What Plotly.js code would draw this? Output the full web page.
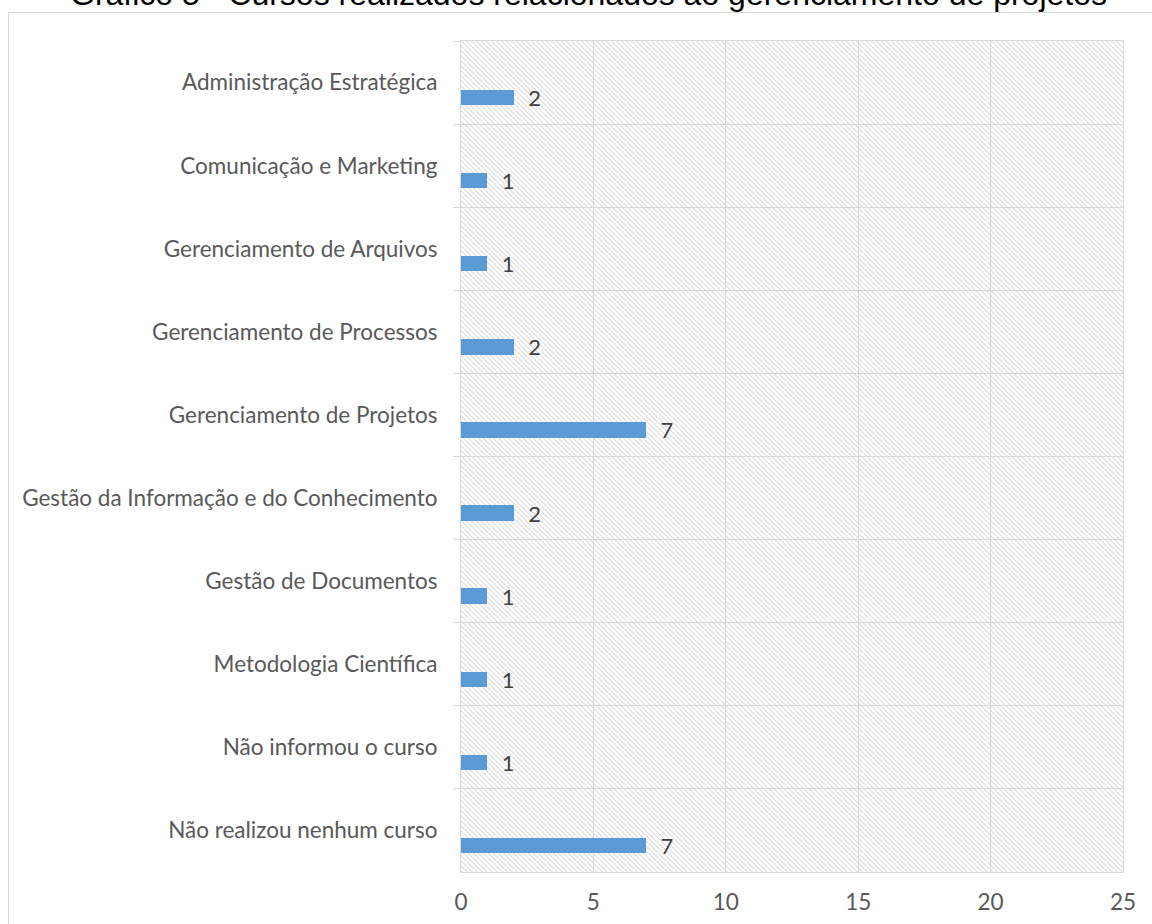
<!DOCTYPE html>
<html>
<head>
<meta charset="utf-8">
<script src="https://cdn.plot.ly/plotly-3.0.1.min.js"></script>
<style>
  html, body { margin: 0; padding: 0; background: #ffffff; }
  #chart { width: 1152px; height: 924px; }
</style>
</head>
<body>
<div id="chart"></div>
<script>
// Courses taken, related to project management
const courses = [
  "Administração Estratégica",
  "Comunicação e Marketing",
  "Gerenciamento de Arquivos",
  "Gerenciamento de Processos",
  "Gerenciamento de Projetos",
  "Gestão da Informação e do Conhecimento",
  "Gestão de Documentos",
  "Metodologia Científica",
  "Não informou o curso",
  "Não realizou nenhum curso"
];
const counts = [2, 1, 1, 2, 7, 2, 1, 1, 1, 7];
const xTicks = [0, 5, 10, 15, 20, 25];
const chartTitle = "Gráfico 5 - Cursos realizados relacionados ao gerenciamento de projetos";

const W = 1152, H = 924;
const M = { l: 461, r: 29, t: 41, b: 52 };
const plotW = W - M.l - M.r;
const plotH = H - M.t - M.b;

// Light diagonal hatch used as the plot-area fill
function hatchImage(w, h) {
  const c = document.createElement("canvas");
  c.width = w; c.height = h;
  const ctx = c.getContext("2d");
  const img = ctx.createImageData(w, h);
  for (let y = 0; y < h; y++) {
    for (let x = 0; x < w; x++) {
      const d = ((x - y) % 5 + 5) % 5;
      let v = 255;
      if (d === 0) v = 222;
      else if (d === 1) v = 238;
      const i = (y * w + x) * 4;
      img.data[i] = v; img.data[i + 1] = v; img.data[i + 2] = v; img.data[i + 3] = 255;
    }
  }
  ctx.putImageData(img, 0, 0);
  return c.toDataURL("image/png");
}

const grid = "#d9d9d9";
const labelFont = { family: "Lato, 'Open Sans', sans-serif", size: 22.5, color: "#595959" };

const trace = {
  type: "bar",
  orientation: "h",
  x: counts,
  y: courses,
  width: 0.185,
  offset: 0.088,
  marker: { color: "#5b9bd5" },
  text: counts.map(String),
  texttemplate: "\u00a0\u00a0%{text}",
  textposition: "outside",
  constraintext: "none",
  cliponaxis: false,
  textfont: { family: "Lato, 'Open Sans', sans-serif", size: 22, color: "#404040" },
  hoverinfo: "x+y"
};

const layout = {
  width: W,
  height: H,
  margin: M,
  paper_bgcolor: "#ffffff",
  plot_bgcolor: "rgba(0,0,0,0)",
  showlegend: false,
  bargap: 0,
  xaxis: {
    range: [0, 25],
    tickvals: xTicks,
    ticktext: xTicks.map(String),
    showgrid: true,
    gridcolor: grid,
    gridwidth: 1,
    zeroline: false,
    showline: true,
    linecolor: grid,
    linewidth: 1,
    mirror: true,
    ticks: "",
    ticklabelstandoff: 10,
    tickfont: labelFont,
    fixedrange: true
  },
  yaxis: {
    type: "category",
    categoryorder: "array",
    categoryarray: courses,
    autorange: "reversed",
    tickson: "boundaries",
    ticks: "outside",
    ticklen: 7,
    tickcolor: grid,
    tickwidth: 1,
    showgrid: true,
    gridcolor: grid,
    gridwidth: 1,
    showline: true,
    linecolor: grid,
    linewidth: 1,
    mirror: true,
    ticklabelstandoff: 18,
    tickfont: labelFont,
    fixedrange: true
  },
  images: [{
    source: hatchImage(plotW, plotH),
    xref: "paper", yref: "paper",
    x: 0, y: 1, sizex: 1, sizey: 1,
    xanchor: "left", yanchor: "top",
    sizing: "stretch",
    layer: "below"
  }],
  shapes: [{
    type: "rect",
    xref: "paper", yref: "paper",
    x0: (8.5 - M.l) / plotW,
    x1: (W + 20 - M.l) / plotW,
    y0: -0.5,
    y1: 1 + (M.t - 12.5) / plotH,
    line: { color: grid, width: 1 },
    fillcolor: "rgba(0,0,0,0)",
    layer: "below"
  }],
  annotations: [{
    text: chartTitle,
    xref: "paper", yref: "paper",
    x: (588.5 - M.l) / plotW,
    y: 1 + (M.t + 6) / plotH,
    xanchor: "center", yanchor: "middle",
    showarrow: false,
    font: { family: "'Liberation Sans', Arial, sans-serif", size: 32, color: "#000000" }
  }]
};

Plotly.newPlot("chart", [trace], layout, { displayModeBar: false, staticPlot: true });
</script>
</body>
</html>
